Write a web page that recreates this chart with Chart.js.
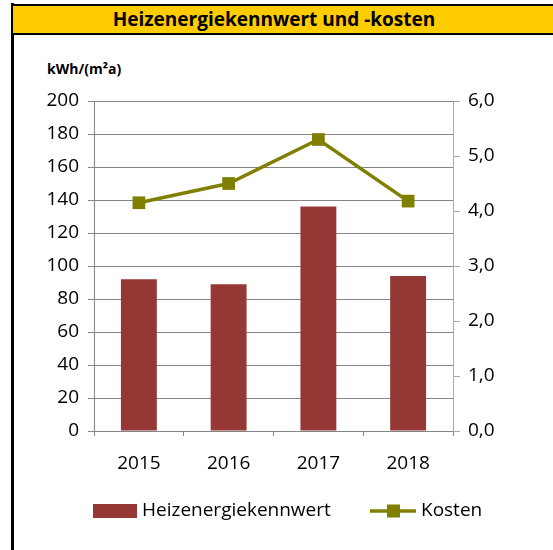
<!DOCTYPE html>
<html>
<head>
<meta charset="utf-8">
<script src="https://cdn.jsdelivr.net/npm/chart.js@4"></script>
<style>
    body { margin: 0; background: #fff; font-family: 'Open Sans', sans-serif; }
    #wrap { position: relative; width: 553px; height: 550px; overflow: hidden; }
    #leftBorder { position: absolute; left: 11px; top: 3px; width: 3px; height: 560px; background: #000; }
    #title {
        position: absolute; left: 13px; top: 4px; width: 540px; height: 27px;
        background: #FFCC00; border-top: 2px solid #000; border-bottom: 2px solid #000;
        font-weight: bold; font-size: 19px; line-height: 27px; color: #000;
    }
    #title span { position: absolute; left: 0; width: 522px; text-align: center; }
    #unit { position: absolute; left: 47px; top: 59px; font-weight: bold; font-size: 14px; color: #000; }
    #chart { position: absolute; left: 0; top: 0; }
</style>
</head>
<body>
<div id="wrap">
    <div id="leftBorder"></div>
    <div id="title"><span>Heizenergiekennwert und -kosten</span></div>
    <div id="unit">kWh/(m²a)</div>
    <canvas id="chart" width="553" height="550"></canvas>
</div>
<script>
// Daten
const jahre = ['2015', '2016', '2017', '2018'];
const heizenergiekennwert = [92, 89, 136, 94];
const kosten = [4.15, 4.5, 5.3, 4.18];

const barColor = '#953735';
const lineColor = '#808000';
const gridColor = '#858585';

Chart.defaults.font.family = "'Open Sans', sans-serif";
Chart.defaults.font.size = 19;
Chart.defaults.color = '#000';

// eigene Legende (Linie mit Quadrat)
const legendPlugin = {
    id: 'customLegend',
    afterDraw(chart) {
        const ctx = chart.ctx;
        const y = 511;
        const x0 = chart.chartArea.left - 1;
        ctx.save();
        ctx.fillStyle = barColor;
        ctx.fillRect(x0, y - 7, 44, 14);
        ctx.fillStyle = '#000';
        ctx.font = "19px 'Open Sans', sans-serif";
        ctx.textBaseline = 'middle';
        ctx.fillText('Heizenergiekennwert', x0 + 49, y);
        const x1 = x0 + 277;
        ctx.strokeStyle = lineColor;
        ctx.lineWidth = 3.5;
        ctx.beginPath();
        ctx.moveTo(x1, y);
        ctx.lineTo(x1 + 46, y);
        ctx.stroke();
        ctx.fillStyle = lineColor;
        ctx.fillRect(x1 + 17, y - 6.5, 13, 13);
        ctx.fillStyle = '#000';
        ctx.fillText('Kosten', x1 + 51, y);
        ctx.restore();
    }
};

const ctx = document.getElementById('chart').getContext('2d');
new Chart(ctx, {
    data: {
        labels: jahre,
        datasets: [{
            type: 'line',
            label: 'Kosten',
            data: kosten,
            yAxisID: 'y2',
            borderColor: lineColor,
            backgroundColor: lineColor,
            borderWidth: 3.5,
            tension: 0,
            pointStyle: 'rect',
            pointRadius: 9,
            pointBorderWidth: 0,
            order: 1
        }, {
            type: 'bar',
            label: 'Heizenergiekennwert',
            data: heizenergiekennwert,
            yAxisID: 'y',
            backgroundColor: barColor,
            barPercentage: 0.4,
            categoryPercentage: 1,
            order: 2
        }]
    },
    options: {
        responsive: false,
        animation: false,
        layout: { padding: { top: 101, left: 0, right: 0, bottom: 0 } },
        plugins: {
            legend: { display: false },
            tooltip: { enabled: false }
        },
        scales: {
            x: {
                offset: true,
                grid: { offset: true, drawOnChartArea: false, color: gridColor, tickLength: 5 },
                border: { color: gridColor },
                ticks: { padding: 16 },
                afterFit(s) { s.height = 119; }
            },
            y: {
                position: 'left',
                min: 0, max: 200,
                ticks: { stepSize: 20, padding: 9 },
                grid: { color: gridColor, tickLength: 6 },
                border: { color: gridColor },
                afterFit(s) { s.width = 94; }
            },
            y2: {
                position: 'right',
                min: 0, max: 6,
                ticks: {
                    stepSize: 1, padding: 8,
                    callback: v => v.toFixed(1).replace('.', ',')
                },
                grid: { drawOnChartArea: false, color: '#aaaaaa', tickLength: 7 },
                border: { color: '#aaaaaa' },
                afterFit(s) { s.width = 100; }
            }
        }
    },
    plugins: [legendPlugin]
});
</script>
</body>
</html>
